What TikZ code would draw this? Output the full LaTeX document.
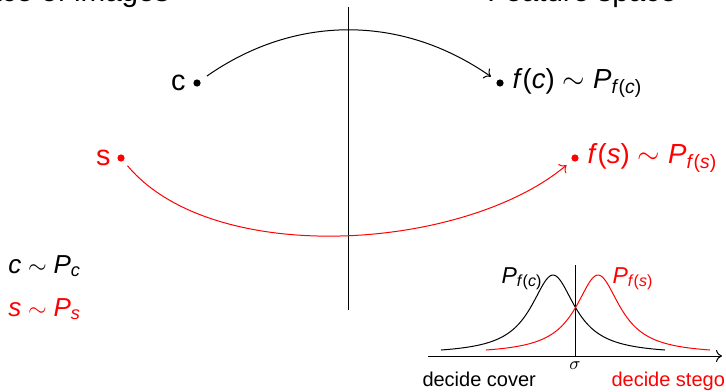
\documentclass[tikz,border=0pt]{standalone}
\usepackage{fontspec}
\setmainfont{Liberation Sans}
\usepackage{xcolor}
\definecolor{ink}{HTML}{000000}
\definecolor{stego}{HTML}{FF0000}
\usepackage{tikz}
\usetikzlibrary{arrows.meta, positioning, calc}
\newcommand{\mv}[1]{\textit{#1}}
\newcommand{\lowtxt}[1]{\textsubscript{#1}}
\newcommand{\simto}{${}\sim{}$}
\tikzset{
  >={To[length=3pt, width=6pt]},
  dot/.style={circle, fill, inner sep=0pt, minimum size=3.6pt},
  ptname/.style={font=\fontsize{14.4}{16}\selectfont, inner sep=0pt},
  imgtag/.style={font=\fontsize{13.8}{15}\selectfont, inner sep=0pt},
  law/.style={font=\fontsize{13}{15}\selectfont, inner sep=0pt},
  head/.style={font=\fontsize{14.8}{17}\selectfont, inner sep=0pt},
  curvetag/.style={font=\fontsize{11.5}{13}\selectfont, inner sep=0pt},
  decide/.style={font=\fontsize{10}{12}\selectfont, inner sep=0pt},
  flow/.style={->, line width=0.5pt},
}

\begin{document}
\begin{tikzpicture}[x=0.5pt, y=-0.5pt, line width=0.5pt]
  \useasboundingbox (0,0) rectangle (726,391);

  % the two spaces
  \node[head, anchor=base east] (imgsp) at (170,1.5) {Space of images};
  \node[head, anchor=base east] (featsp) at (677,1.5) {Feature space};
  \coordinate (divtop) at (348,7);
  \coordinate (divbot) at (348,310);
  \draw (divtop) -- (divbot);

  % cover
  \node[dot] (c) at (197,83) {};
  \node[ptname, left=3.5pt of c] (clab) {c};
  \node[dot] (fc) at (500,83) {};
  \node[imgtag, right=4pt of fc] (fclab)
    {\mv{f}(\mv{c})\simto\mv{P}\lowtxt{\mv{f}(\mv{c})}};
  \draw[flow, shorten <=4pt, shorten >=3.5pt] (c) to[out=35, in=145] (fc);

  % stego
  \node[dot, stego] (s) at (121,158) {};
  \node[ptname, stego, left=3pt of s] (slab) {s};
  \node[dot, stego] (fs) at (575,158) {};
  \node[imgtag, stego, right=4pt of fs] (fslab)
    {\mv{f}(\mv{s})\simto\mv{P}\lowtxt{\mv{f}(\mv{s})}};
  \draw[flow, stego, shorten <=3pt, shorten >=3.5pt] (s) to[out=-50, in=-140, looseness=0.8] (fs);

  \node[law, anchor=base west] (cdist) at (8,273) {\mv{c}\simto\mv{P}\lowtxt{\mv{c}}};
  \node[law, stego, anchor=base west] (sdist) at (8,316) {\mv{s}\simto\mv{P}\lowtxt{\mv{s}}};

  % the detector
  \coordinate (ax0) at (428,356);
  \coordinate (ax1) at (722,356);
  \draw[flow] (ax0) -- (ax1);
  \coordinate (thtop) at (575,265);
  \coordinate (thbot) at (575,357);
  \draw (thtop) -- (thbot);
  \node[font=\fontsize{9}{10}\selectfont, inner sep=0pt, below=2pt of thbot] (sig) {$\sigma$};

  \draw plot[domain=-112:112, samples=120, smooth]
    ({553+\x}, {350-75*(1/(1+(\x/27)^2)-0.055)/0.945});
  \draw[stego] plot[domain=-112:112, samples=120, smooth]
    ({598+\x}, {350-75*(1/(1+(\x/27)^2)-0.055)/0.945});

  \node[curvetag, anchor=base east] (pfc) at (543,283) {\mv{P}\lowtxt{\mv{f}(\mv{c})}};
  \node[curvetag, stego, anchor=base west] (pfs) at (612,283) {\mv{P}\lowtxt{\mv{f}(\mv{s})}};
  \node[decide, anchor=base west] (dcov) at (422,386) {decide cover};
  \node[decide, stego, anchor=base west] (dste) at (611,386) {decide stego};
\end{tikzpicture}
\end{document}
